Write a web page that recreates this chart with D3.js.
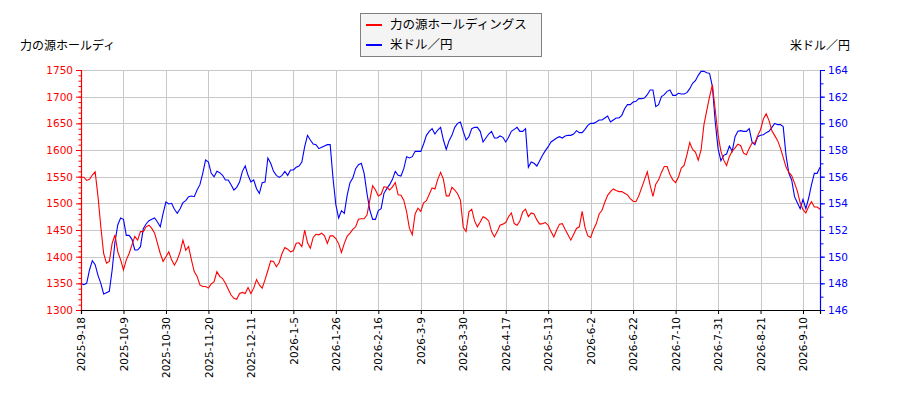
<!DOCTYPE html>
<html>
<head>
<meta charset="utf-8">
<script src="https://cdn.jsdelivr.net/npm/d3@7"></script>
<style>
  body { margin: 0; background: #fff; }
  svg { display: block; }
</style>
</head>
<body>
<svg id="chart" width="900" height="400"></svg>
<script>
// trading-day series, one value per session
const stockName = "力の源ホールディングス";
const fxName = "米ドル／円";

const stockValues = [
  1549, 1549, 1543, 1545, 1553, 1559, 1513, 1456, 1406, 1388, 1391, 1425, 1441, 1409, 1394, 1375,
  1394, 1406, 1422, 1438, 1431, 1447, 1447, 1456, 1459, 1453, 1444, 1425, 1406, 1391, 1400, 1409,
  1394, 1384, 1394, 1409, 1431, 1412, 1419, 1394, 1372, 1363, 1347, 1344, 1344, 1341, 1349, 1353,
  1372, 1363, 1359, 1350, 1339, 1328, 1322, 1320, 1331, 1333, 1331, 1342, 1331, 1341, 1357, 1347,
  1341, 1357, 1374, 1392, 1391, 1381, 1389, 1406, 1417, 1414, 1409, 1411, 1425, 1426, 1419, 1450,
  1426, 1416, 1436, 1442, 1441, 1444, 1439, 1425, 1439, 1439, 1434, 1424, 1408, 1425, 1438, 1444,
  1451, 1456, 1470, 1471, 1471, 1478, 1506, 1533, 1525, 1514, 1517, 1531, 1530, 1525, 1531, 1539,
  1516, 1515, 1506, 1484, 1453, 1441, 1480, 1491, 1485, 1501, 1505, 1517, 1529, 1527, 1545, 1558,
  1545, 1514, 1514, 1530, 1525, 1518, 1506, 1455, 1447, 1484, 1489, 1467, 1456, 1465, 1475, 1472,
  1467, 1447, 1437, 1447, 1459, 1461, 1464, 1475, 1482, 1462, 1459, 1467, 1484, 1489, 1475, 1482,
  1480, 1469, 1461, 1462, 1464, 1459, 1447, 1437, 1450, 1461, 1462, 1451, 1441, 1431, 1442, 1453,
  1456, 1485, 1455, 1439, 1436, 1451, 1462, 1480, 1487, 1502, 1515, 1522, 1527, 1524, 1522, 1522,
  1519, 1516, 1509, 1504, 1503, 1514, 1529, 1544, 1559, 1534, 1513, 1536, 1544, 1558, 1569, 1569,
  1554, 1544, 1539, 1549, 1566, 1571, 1591, 1614, 1601, 1596, 1581, 1600, 1647, 1674, 1700, 1722,
  1675, 1628, 1598, 1581, 1571, 1588, 1598, 1604, 1611, 1608, 1594, 1591, 1603, 1613, 1613, 1627,
  1638, 1658, 1668, 1655, 1636, 1627, 1618, 1604, 1586, 1568, 1558, 1552, 1538, 1523, 1501, 1488,
  1482, 1494, 1503, 1493, 1493, 1489
];

const fxValues = [
  148.0, 147.9, 148.0, 149.0, 149.7, 149.4, 148.6, 148.0, 147.2, 147.3, 147.4, 149.0, 151.1, 152.4, 152.9, 152.8,
  151.6, 151.6, 151.3, 150.5, 150.5, 150.75, 152.1, 152.45, 152.7, 152.8, 152.9, 152.6, 152.25, 153.25, 154.1, 153.95,
  154.0, 153.55, 153.25, 153.6, 154.05, 154.2, 154.5, 154.55, 154.5, 155.0, 155.4, 156.25, 157.25, 157.1, 156.25, 156.0,
  156.4, 156.3, 156.1, 155.75, 155.75, 155.4, 155.0, 155.2, 155.6, 156.4, 156.8, 156.1, 155.6, 155.75, 155.1, 154.75,
  155.55, 155.6, 157.4, 157.0, 156.4, 156.1, 155.95, 156.1, 156.4, 156.1, 156.5, 156.5, 156.7, 156.8, 157.1, 158.25,
  159.1, 158.75, 158.45, 158.4, 158.1, 158.2, 158.3, 158.4, 158.4, 155.9, 153.9, 152.9, 153.45, 153.25, 154.6, 155.55,
  155.9, 156.6, 156.9, 157.0, 156.25, 154.75, 153.5, 152.8, 152.8, 153.45, 153.6, 154.75, 155.1, 155.4, 155.8, 156.4,
  156.1, 156.05, 156.6, 157.5, 157.4, 157.5, 157.9, 157.9, 157.9, 158.45, 159.1, 159.4, 159.6, 159.2, 159.5, 159.7,
  158.75, 158.05, 158.7, 159.1, 159.7, 160.0, 160.1, 159.4, 158.75, 159.0, 159.6, 159.7, 159.7, 159.4, 158.6, 158.9,
  159.2, 159.4, 158.9, 158.9, 159.05, 158.95, 158.6, 158.95, 159.4, 159.55, 159.7, 159.4, 159.4, 159.6, 156.7, 157.1,
  157.0, 156.8, 157.2, 157.6, 157.95, 158.25, 158.6, 158.75, 158.9, 159.0, 158.9, 159.05, 159.1, 159.1, 159.2, 159.45,
  159.3, 159.3, 159.55, 159.85, 160.0, 160.0, 160.1, 160.25, 160.25, 160.4, 160.55, 160.1, 160.25, 160.4, 160.4, 160.6,
  161.1, 161.4, 161.4, 161.6, 161.65, 161.85, 161.85, 161.9, 162.15, 162.5, 162.5, 161.25, 161.4, 162.0, 162.15, 162.4,
  162.5, 162.1, 162.1, 162.25, 162.2, 162.2, 162.3, 162.6, 163.0, 163.2, 163.6, 163.9, 163.9, 163.8, 163.75, 162.75,
  160.1, 158.1, 157.2, 157.6, 157.7, 158.3, 157.9, 159.0, 159.4, 159.45, 159.4, 159.4, 159.6, 158.6, 158.4, 159.0,
  159.1, 159.15, 159.3, 159.4, 159.7, 160.0, 159.9, 159.9, 159.75, 157.6, 156.25, 155.75, 154.5, 154.05, 153.6, 154.3,
  153.6, 154.4, 155.4, 156.25, 156.25, 156.7
];

// a label every 15 sessions
const tickEvery = 15;
const tickLabels = [
  "2025-9-18", "2025-10-9", "2025-10-30", "2025-11-20", "2025-12-11", "2026-1-5",
  "2026-1-26", "2026-2-16", "2026-3-9", "2026-3-30", "2026-4-17", "2026-5-13",
  "2026-6-2", "2026-6-22", "2026-7-10", "2026-7-31", "2026-8-21", "2026-9-10"
];

const leftTicks = [1300, 1350, 1400, 1450, 1500, 1550, 1600, 1650, 1700, 1750];
const rightTicks = [146, 148, 150, 152, 154, 156, 158, 160, 162, 164];

const margin = {left: 81, right: 820, top: 70, bottom: 310};
const RED = "#ff0000", BLUE = "#0000ff";
const jpFont = "'Noto Sans CJK JP', sans-serif";
const numFont = "'DejaVu Sans', sans-serif";

const svg = d3.select("#chart");

const x = d3.scaleLinear()
    .domain([0, stockValues.length - 1])
    .range([margin.left, margin.right]);
const yL = d3.scaleLinear().domain([1300, 1750]).range([margin.bottom, margin.top]);
const yR = d3.scaleLinear().domain([146, 164]).range([margin.bottom, margin.top]);

const tickIdx = tickLabels.map((d, i) => i * tickEvery);

// grid
const grid = svg.append("g").attr("stroke", "#c8c8c8").attr("stroke-width", 1);
grid.selectAll("line.h")
    .data(leftTicks)
    .enter().append("line")
    .attr("x1", margin.left).attr("x2", margin.right)
    .attr("y1", d => Math.round(yL(d)) + 0.5).attr("y2", d => Math.round(yL(d)) + 0.5);
grid.selectAll("line.v")
    .data(tickIdx)
    .enter().append("line")
    .attr("x1", d => Math.round(x(d)) + 0.5).attr("x2", d => Math.round(x(d)) + 0.5)
    .attr("y1", margin.top).attr("y2", margin.bottom);

// lines
svg.append("clipPath").attr("id", "plot")
    .append("rect")
    .attr("x", margin.left).attr("y", margin.top - 2)
    .attr("width", margin.right - margin.left).attr("height", margin.bottom - margin.top + 4);

const lineL = d3.line().x((d, i) => x(i)).y(d => yL(d));
const lineR = d3.line().x((d, i) => x(i)).y(d => yR(d));

svg.append("path")
    .datum(fxValues)
    .attr("clip-path", "url(#plot)")
    .attr("fill", "none").attr("stroke", BLUE).attr("stroke-width", 1.1)
    .attr("d", lineR);

svg.append("path")
    .datum(stockValues)
    .attr("clip-path", "url(#plot)")
    .attr("fill", "none").attr("stroke", RED).attr("stroke-width", 1.1)
    .attr("d", lineL);

// left axis
const leftAxis = svg.append("g")
    .attr("transform", `translate(${margin.left},0)`)
    .call(d3.axisLeft(yL).tickValues(leftTicks).tickSize(5).tickPadding(3).tickFormat(d3.format("d")));
leftAxis.call(g => g.select(".domain").attr("stroke", RED).attr("stroke-width", 1.2));
leftAxis.selectAll(".tick line").attr("stroke", RED);
leftAxis.selectAll(".tick text").attr("fill", RED).attr("font-family", numFont).attr("font-size", 10.5);
svg.append("g")
    .attr("transform", `translate(${margin.left},0)`)
    .call(d3.axisLeft(yL).tickValues(d3.range(1300, 1751, 10)).tickSize(2.5).tickFormat(""))
    .call(g => g.select(".domain").remove())
    .selectAll("line").attr("stroke", RED);

// right axis
const rightAxis = svg.append("g")
    .attr("transform", `translate(${margin.right},0)`)
    .call(d3.axisRight(yR).tickValues(rightTicks).tickSize(5).tickPadding(3).tickFormat(d3.format("d")));
rightAxis.call(g => g.select(".domain").attr("stroke", BLUE).attr("stroke-width", 1.2));
rightAxis.selectAll(".tick line").attr("stroke", BLUE);
rightAxis.selectAll(".tick text").attr("fill", BLUE).attr("font-family", numFont).attr("font-size", 10.5);
svg.append("g")
    .attr("transform", `translate(${margin.right},0)`)
    .call(d3.axisRight(yR).tickValues(d3.range(146, 164.1, 1)).tickSize(3.5).tickFormat(""))
    .call(g => g.select(".domain").remove())
    .selectAll("line").attr("stroke", BLUE);

// bottom axis
const bottomAxis = svg.append("g")
    .attr("transform", `translate(0,${margin.bottom})`)
    .call(d3.axisBottom(x).tickValues(tickIdx).tickSize(4)
        .tickFormat((d, i) => tickLabels[i]));
bottomAxis.select(".domain").attr("stroke", "#000").attr("stroke-width", 1.2);
bottomAxis.selectAll(".tick text")
    .attr("font-family", numFont).attr("font-size", 10.5).attr("fill", "#000")
    .attr("transform", "rotate(-90)")
    .attr("text-anchor", "end")
    .attr("x", -7).attr("y", 0).attr("dy", "0.35em");

// axis titles
svg.append("text")
    .attr("x", 20).attr("y", 50)
    .attr("font-family", jpFont).attr("font-size", 12)
    .text("力の源ホールディ");
svg.append("text")
    .attr("x", 850).attr("y", 50).attr("text-anchor", "end")
    .attr("font-family", jpFont).attr("font-size", 12)
    .text(fxName);

// legend
const legend = svg.append("g");
legend.append("rect")
    .attr("x", 360.5).attr("y", 13.5).attr("width", 181).attr("height", 43)
    .attr("fill", "#f4f4f4").attr("stroke", "#808080");
const entries = [{name: stockName, color: RED}, {name: fxName, color: BLUE}];
const item = legend.selectAll("g.item")
    .data(entries)
    .enter().append("g")
    .attr("transform", (d, i) => `translate(366,${25 + i * 20})`);
item.append("line")
    .attr("x1", 0).attr("x2", 16).attr("y1", 0).attr("y2", 0)
    .attr("stroke", d => d.color).attr("stroke-width", 2);
item.append("text")
    .attr("x", 24).attr("dy", "0.35em")
    .attr("font-family", jpFont).attr("font-size", 12.5)
    .text(d => d.name);
</script>
</body>
</html>
